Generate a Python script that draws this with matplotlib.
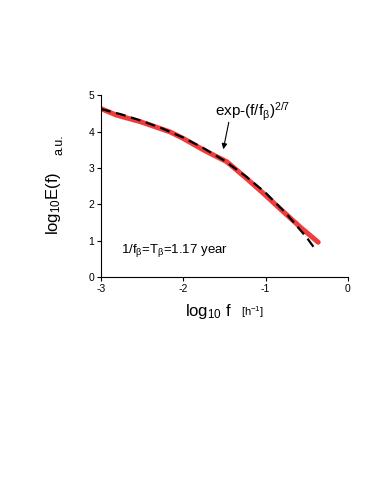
import matplotlib
matplotlib.use("Agg")
import matplotlib.pyplot as plt

plt.rcParams['font.family'] = ['Liberation Sans', 'DejaVu Sans']
plt.rcParams['mathtext.fontset'] = 'custom'
plt.rcParams['mathtext.rm'] = 'Liberation Sans'
plt.rcParams['mathtext.it'] = 'Liberation Sans'
plt.rcParams['axes.unicode_minus'] = False

# data: measured spectrum (red)
x_data = [-3.0, -2.81, -2.52, -2.16, -2.0, -1.75, -1.47, -1.23, -1.02, -0.78, -0.58, -0.36]
y_data = [4.63, 4.45, 4.27, 3.99, 3.81, 3.49, 3.17, 2.71, 2.29, 1.79, 1.38, 0.96]

# stretched-exponential fit (black dashed)
x_fit = [-3.0, -2.75, -2.5, -2.25, -2.0, -1.75, -1.5, -1.25, -1.0, -0.75, -0.5, -0.4]
y_fit = [4.62, 4.47, 4.29, 4.08, 3.835, 3.54, 3.20, 2.79, 2.32, 1.75, 1.09, 0.78]

xticks = [-3, -2, -1, 0]
yticks = [0, 1, 2, 3, 4, 5]

fig = plt.figure(figsize=(3.74, 4.88), dpi=100)
ax = fig.add_axes([0.270, 0.432, 0.660, 0.373])
ax.plot(x_data, y_data, color='#f03c3c', lw=3.6, solid_capstyle='round', zorder=2)
ax.plot(x_fit, y_fit, color='black', lw=1.6, dashes=(4.5, 2.5), zorder=3)

ax.set_xlim(-3, 0)
ax.set_ylim(0, 5)
ax.set_xticks(xticks)
ax.set_yticks(yticks)
ax.tick_params(labelsize=7.5, length=3, width=0.8, direction='out', pad=2)
for s in ['top', 'right']:
    ax.spines[s].set_visible(False)
for s in ['left', 'bottom']:
    ax.spines[s].set_linewidth(0.8)

ax.text(-1.61, 4.54, r'exp-(f/f$_\beta$)$^{2/7}$', fontsize=11, va='center', ha='left')
ax.annotate('', xy=(-1.52, 3.44), xytext=(-1.44, 4.33),
            arrowprops=dict(arrowstyle='-|>', color='black', lw=0.8, mutation_scale=8))
ax.text(-2.76, 0.73, r'1/f$_\beta$=T$_\beta$=1.17 year', fontsize=9.5, va='center', ha='left')

fig.text(0.142, 0.584, r'log$_{10}$E(f)', rotation=90, fontsize=12, va='center', ha='center')
fig.text(0.158, 0.703, 'a.u.', rotation=90, fontsize=9, va='center', ha='center')
fig.text(0.62, 0.362, r'log$_{10}$ f', fontsize=12, va='center', ha='right')
fig.text(0.645, 0.36, r'[h$^{\mathdefault{-1}}$]', fontsize=8, va='center', ha='left')

fig.savefig('out.png', dpi=100)
